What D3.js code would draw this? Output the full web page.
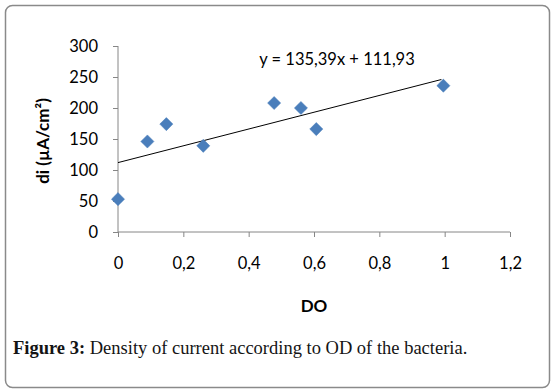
<!DOCTYPE html>
<html>
<head>
<meta charset="utf-8">
<script src="https://cdn.jsdelivr.net/npm/d3@7"></script>
<style>
  body { margin: 0; background: #fff; }
  svg { display: block; }
</style>
</head>
<body>
<div class="chart"></div>
<script>

// values
var odValues = [0, 0.09, 0.148, 0.261, 0.478, 0.56, 0.607, 0.996];
var diValues = [53, 146, 174, 139, 208, 200, 166, 236];
var xTicks = [0, 0.2, 0.4, 0.6, 0.8, 1, 1.2];
var yTicks = [0, 50, 100, 150, 200, 250, 300];
var slope = 135.39, intercept = 111.93;
var equationText = "y = 135,39x + 111,93";

var W = 553, H = 392;

var svg = d3.select(".chart")
  .append("svg")
    .attr("width", W)
    .attr("height", H);

// frame
svg.append("rect")
  .attr("x", 5.5).attr("y", 5.5)
  .attr("width", 544).attr("height", 382)
  .attr("rx", 7)
  .attr("fill", "#fff")
  .attr("stroke", "#8a8a8a")
  .attr("stroke-width", 1.5);

var x = d3.scaleLinear().domain([0, 1.2]).range([118, 510]);
var y = d3.scaleLinear().domain([0, 300]).range([232, 46]);

var fmt = function(d) { return String(d).replace(".", ","); };

var font = "Lato, 'Open Sans', sans-serif";

// y axis
var yAxis = svg.append("g")
  .attr("transform", "translate(" + x(0) + ",0)")
  .call(d3.axisLeft(y).tickValues(yTicks).tickSize(5).tickPadding(15).tickFormat(fmt));

// x axis
var xAxis = svg.append("g")
  .attr("transform", "translate(0," + y(0) + ")")
  .call(d3.axisBottom(x).tickValues(xTicks).tickSize(5).tickPadding(20).tickFormat(fmt));

[xAxis, yAxis].forEach(function(a) {
  a.select(".domain").attr("stroke", "#868686").attr("stroke-width", 1);
  a.selectAll(".tick line").attr("stroke", "#868686");
  a.selectAll("text")
    .attr("fill", "#000")
    .style("font-family", font)
    .style("font-size", "16.5px");
});
// domain lines without the end caps
yAxis.select(".domain").attr("d", "M0," + y(300) + "V" + y(0));
xAxis.select(".domain").attr("d", "M" + x(0) + ",0H" + x(1.2));

// trend line
var trendX = [0, 0.99];
svg.append("line")
  .attr("x1", x(trendX[0])).attr("y1", y(intercept + slope * trendX[0]))
  .attr("x2", x(trendX[1])).attr("y2", y(intercept + slope * trendX[1]))
  .attr("stroke", "#000")
  .attr("stroke-width", 1);

// points
var diamond = d3.symbol().type(d3.symbolDiamond2).size(110);
svg.selectAll(".pt")
  .data(odValues)
  .enter()
  .append("path")
    .attr("class", "pt")
    .attr("d", diamond)
    .attr("transform", function(d, i) { return "translate(" + x(d) + "," + y(diValues[i]) + ")"; })
    .attr("fill", "#4a7ebb")
    .attr("stroke", "#4a7ebb")
    .attr("stroke-width", 0.5);

// equation
svg.append("text")
  .attr("x", 337).attr("y", 65)
  .attr("text-anchor", "middle")
  .style("font-family", font)
  .style("font-size", "16.5px")
  .text(equationText);

// axis titles
svg.append("text")
  .attr("x", (x(0) + x(1.2)) / 2).attr("y", 312)
  .attr("text-anchor", "middle")
  .style("font-family", font)
  .style("font-size", "17px")
  .style("font-weight", "bold")
  .text("DO");

svg.append("text")
  .attr("transform", "translate(49,141) rotate(-90)")
  .attr("text-anchor", "middle")
  .style("font-family", font)
  .style("font-size", "17px")
  .style("font-weight", "bold")
  .text("di (µA/cm²)");

// caption
var cap = svg.append("text")
  .attr("x", 13).attr("y", 354)
  .attr("fill", "#141414")
  .style("font-family", "'Liberation Serif', 'DejaVu Serif', serif")
  .style("font-size", "18.5px");
cap.append("tspan").style("font-weight", "bold").text("Figure 3:");
cap.append("tspan").text(" Density of current according to OD of the bacteria.");

</script>
</body>
</html>
